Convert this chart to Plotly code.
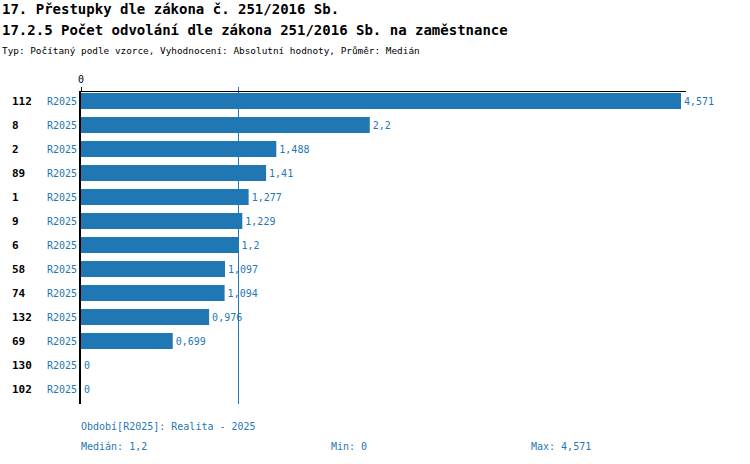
import plotly.graph_objects as go

ids = ["112", "8", "2", "89", "1", "9", "6", "58", "74", "132", "69", "130", "102"]
period = ["R2025"] * 13
values = [4.571, 2.2, 1.488, 1.41, 1.277, 1.229, 1.2, 1.097, 1.094, 0.976, 0.699, 0, 0]

title1 = "17. Přestupky dle zákona č. 251/2016 Sb."
title2 = "17.2.5 Počet odvolání dle zákona 251/2016 Sb. na zaměstnance"
subtitle = "Typ: Počítaný podle vzorce, Vyhodnocení: Absolutní hodnoty, Průměr: Medián"
legend_text = "Období[R2025]: Realita - 2025"

def fmt(v):
    return f"{v:g}".replace(".", ",")

sv = sorted(values)
median = sv[len(sv) // 2]
vmin, vmax = min(values), max(values)

BLUE = "#1f77b4"
MONO = "DejaVu Sans Mono"

W, H = 750, 464
PL, PR, PT, PB = 81, 686, 92, 404  # plot area in screen pixels
PW, PH = PR - PL, PB - PT
L, T = PL, PT
R, B = W - PR, H - PB

def px(xp):
    return (xp - PL) / PW

def py(yp):
    return 1 - (yp - PT) / PH

ypos = list(range(len(values)))

fig = go.Figure()
fig.add_trace(go.Bar(
    x=values, y=ypos, orientation="h",
    marker=dict(color=BLUE, line=dict(width=0)),
    width=0.667,
    text=[fmt(v) for v in values],
    textposition="outside",
    textfont=dict(family=MONO, size=10, color=BLUE),
    cliponaxis=False,
    hoverinfo="skip",
))

fig.add_shape(type="line", xref="x", yref="paper", x0=median, x1=median,
              y0=0, y1=py(87), line=dict(color=BLUE, width=1), layer="below")

ann = []
for i, (idv, p) in enumerate(zip(ids, period)):
    ann.append(dict(xref="paper", yref="y", x=px(10), y=i, text=idv, showarrow=False,
                    xanchor="left", yanchor="middle",
                    font=dict(family=MONO, size=11, color="black", weight="bold")))
    ann.append(dict(xref="paper", yref="y", x=0, y=i, text=p, showarrow=False,
                    xanchor="right", yanchor="middle", xshift=-2,
                    font=dict(family=MONO, size=10, color=BLUE)))

ann.append(dict(xref="paper", yref="paper", x=px(0), y=py(9), text=title1, showarrow=False,
                xanchor="left", yanchor="middle",
                font=dict(family=MONO, size=14, color="black", weight="bold")))
ann.append(dict(xref="paper", yref="paper", x=px(0), y=py(30), text=title2, showarrow=False,
                xanchor="left", yanchor="middle",
                font=dict(family=MONO, size=14, color="black", weight="bold")))
ann.append(dict(xref="paper", yref="paper", x=px(0), y=py(50), text=subtitle, showarrow=False,
                xanchor="left", yanchor="middle",
                font=dict(family=MONO, size=9.4, color="black")))
ann.append(dict(xref="paper", yref="paper", x=px(79), y=py(426), text=legend_text, showarrow=False,
                xanchor="left", yanchor="middle",
                font=dict(family=MONO, size=10, color=BLUE)))
ann.append(dict(xref="paper", yref="paper", x=px(79), y=py(446), text="Medián: " + fmt(median),
                showarrow=False, xanchor="left", yanchor="middle",
                font=dict(family=MONO, size=10, color=BLUE)))
ann.append(dict(xref="paper", yref="paper", x=px(329), y=py(446), text="Min: " + fmt(vmin),
                showarrow=False, xanchor="left", yanchor="middle",
                font=dict(family=MONO, size=10, color=BLUE)))
ann.append(dict(xref="paper", yref="paper", x=px(529), y=py(446), text="Max: " + fmt(vmax),
                showarrow=False, xanchor="left", yanchor="middle",
                font=dict(family=MONO, size=10, color=BLUE)))

fig.update_layout(
    width=W, height=H,
    margin=dict(l=L, r=R, t=T, b=B, pad=0),
    paper_bgcolor="white", plot_bgcolor="white",
    showlegend=False,
    annotations=ann,
    font=dict(family=MONO),
    xaxis=dict(range=[0, PW / (600 / vmax)], side="top", showgrid=False, zeroline=False,
               showline=True, linecolor="black", linewidth=1,
               tickvals=[0], ticktext=["0"], ticks="outside", ticklen=4, tickcolor="black",
               tickfont=dict(family=MONO, size=10, color="black")),
    yaxis=dict(range=[12 + 15 / 24, -9 / 24], showgrid=False, zeroline=False,
               showline=True, linecolor="black", linewidth=2,
               showticklabels=False, ticks=""),
)

fig.write_html("out.html", config={"displayModeBar": False},
               post_script="document.body.style.margin='0';document.body.style.overflow='hidden';")
